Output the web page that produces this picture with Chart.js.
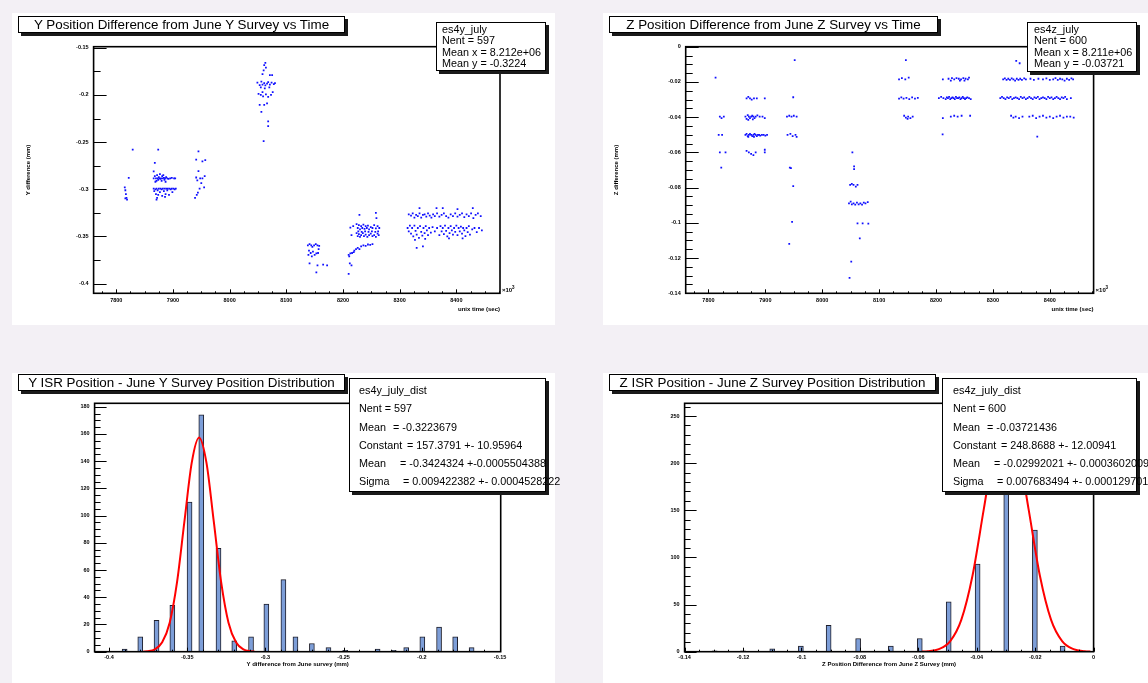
<!DOCTYPE html>
<html><head><meta charset="utf-8">
<script src="https://cdn.jsdelivr.net/npm/chart.js@4.4.1/dist/chart.umd.min.js"></script>
<style>
body{margin:0;width:1148px;height:683px;background:#f3f0f5;position:relative;overflow:hidden;font-family:"Liberation Sans",Arial,sans-serif;color:#000}
.pad{position:absolute;background:#fff}
.pad canvas{position:absolute;left:0;top:0}
.title{position:absolute;box-sizing:border-box;border:1px solid #000;background:#fff;box-shadow:3px 3px 0 #1a1a1a;font-size:13.4px;text-align:center;line-height:15px;white-space:nowrap;overflow:visible}
.stats{position:absolute;box-sizing:border-box;border:1px solid #000;background:#fff;box-shadow:3px 3px 0 #1a1a1a;font-size:10.8px;white-space:nowrap;overflow:visible}
.stats div{white-space:nowrap}
.stats span{display:inline-block}
</style></head>
<body>
<div class="pad" style="left:12px;top:13px;width:543px;height:312px"><canvas id="cTL" width="543" height="312"></canvas></div>
<div class="pad" style="left:603px;top:13px;width:545px;height:312px"><canvas id="cTR" width="545" height="312"></canvas></div>
<div class="pad" style="left:12px;top:373px;width:543px;height:310px"><canvas id="cBL" width="543" height="310"></canvas></div>
<div class="pad" style="left:603px;top:373px;width:545px;height:310px"><canvas id="cBR" width="545" height="310"></canvas></div>

<div class="title" style="left:18px;top:16px;width:327px;height:17px">Y Position Difference from June Y Survey vs Time</div>
<div class="title" style="left:609px;top:16px;width:329px;height:17px">Z Position Difference from June Z Survey vs Time</div>
<div class="title" style="left:18px;top:374px;width:327px;height:17px">Y ISR Position - June Y Survey Position Distribution</div>
<div class="title" style="left:609px;top:374px;width:327px;height:17px">Z ISR Position - June Z Survey Position Distribution</div>

<div class="stats" style="left:436px;top:22px;width:110px;height:49px;padding:1px 0 0 5px;line-height:11.3px">
<div>es4y_july</div><div>Nent = 597</div><div>Mean x = 8.212e+06</div><div>Mean y = -0.3224</div></div>
<div class="stats" style="left:1027px;top:22px;width:110px;height:50px;padding:1px 0 0 6px;line-height:11.3px">
<div>es4z_july</div><div>Nent = 600</div><div>Mean x = 8.211e+06</div><div>Mean y = -0.03721</div></div>
<div class="stats" style="left:349px;top:378px;width:197px;height:114px;padding:2px 0 0 9px;line-height:18.3px">
<div>es4y_july_dist</div><div>Nent = 597</div>
<div><span style="width:34px">Mean</span>= -0.3223679</div>
<div><span style="width:48px">Constant</span>= 157.3791 +- 10.95964</div>
<div><span style="width:41px">Mean</span>= -0.3424324 +-0.0005504388</div>
<div><span style="width:44px">Sigma</span>= 0.009422382 +- 0.0004528222</div></div>
<div class="stats" style="left:942px;top:378px;width:195px;height:114px;padding:2px 0 0 10px;line-height:18.3px">
<div>es4z_july_dist</div><div>Nent = 600</div>
<div><span style="width:34px">Mean</span>= -0.03721436</div>
<div><span style="width:48px">Constant</span>= 248.8688 +- 12.00941</div>
<div><span style="width:41px">Mean</span>= -0.02992021 +- 0.0003602009</div>
<div><span style="width:44px">Sigma</span>= 0.007683494 +- 0.0001297016</div></div>

<script>
// ---------------- data ----------------
const timeTicks = [7800, 7900, 8000, 8100, 8200, 8300, 8400];
const timeTickLabels = ['7800', '7900', '8000', '8100', '8200', '8300', '8400'];
const yDiffTicks = [-0.4, -0.35, -0.3, -0.25, -0.2, -0.15];
const yDiffTickLabels = ['-0.4', '-0.35', '-0.3', '-0.25', '-0.2', '-0.15'];
const zDiffTicks = [-0.14, -0.12, -0.1, -0.08, -0.06, -0.04, -0.02, 0];
const zDiffTickLabels = ['-0.14', '-0.12', '-0.1', '-0.08', '-0.06', '-0.04', '-0.02', '0'];
const yCountTicks = [0, 20, 40, 60, 80, 100, 120, 140, 160, 180];
const yCountTickLabels = ['0', '20', '40', '60', '80', '100', '120', '140', '160', '180'];
const zCountTicks = [0, 50, 100, 150, 200, 250];
const zCountTickLabels = ['0', '50', '100', '150', '200', '250'];

// Y position difference vs time (time in 10^3 s, difference in mm)
const yScatter = [
 [7829,-0.258],[7822,-0.288],[7815,-0.298],[7816,-0.301],[7817,-0.305],[7818,-0.309],[7816,-0.3095],[7819,-0.311],
 [7874,-0.258],[7868,-0.272],[7866,-0.281],[7871,-0.311],
 [7866,-0.2885],[7868,-0.286],[7870,-0.2885],[7871,-0.291],[7872,-0.285],[7873,-0.2885],[7874,-0.290],[7875,-0.287],[7876,-0.2885],[7877,-0.284],[7878,-0.289],[7879,-0.2885],[7880,-0.291],[7881,-0.286],[7882,-0.2885],[7884,-0.288],[7885,-0.290],[7886,-0.2885],[7888,-0.287],[7890,-0.2885],[7892,-0.289],[7895,-0.2885],[7898,-0.288],[7902,-0.2885],[7904,-0.2885],[7869,-0.292],[7883,-0.285],[7887,-0.292],
 [7866,-0.2994],[7867,-0.302],[7869,-0.300],[7870,-0.305],[7871,-0.2994],[7873,-0.301],[7874,-0.306],[7875,-0.2994],[7877,-0.303],[7878,-0.2994],[7880,-0.300],[7881,-0.307],[7882,-0.2994],[7884,-0.302],[7885,-0.2994],[7887,-0.305],[7888,-0.2994],[7890,-0.301],[7891,-0.2994],[7893,-0.306],[7894,-0.2994],[7896,-0.300],[7898,-0.2994],[7899,-0.303],[7901,-0.2994],[7903,-0.300],[7905,-0.2994],[7872,-0.309],[7886,-0.308],
 [7945,-0.2597],[7941,-0.2685],[7952,-0.2703],[7957,-0.269],[7945,-0.2808],[7941,-0.2875],[7948,-0.2885],[7956,-0.286],[7943,-0.2905],[7950,-0.2935],[7947,-0.2994],[7955,-0.298],[7944,-0.3035],[7939,-0.3092],[7942,-0.306],[7952,-0.2885],
 [8063,-0.166],[8061,-0.1685],[8064,-0.171],[8060,-0.174],[8071,-0.179],[8075,-0.179],[8058,-0.178],
 [8049,-0.187],[8053,-0.1895],[8056,-0.186],[8058,-0.189],[8061,-0.1875],[8063,-0.190],[8066,-0.188],[8068,-0.1865],[8071,-0.189],[8074,-0.187],[8078,-0.1885],[8080,-0.1875],[8055,-0.192],[8062,-0.193],[8070,-0.192],
 [8051,-0.199],[8055,-0.200],[8059,-0.2015],[8064,-0.1995],[8068,-0.202],[8073,-0.200],[8058,-0.197],[8076,-0.197],
 [8053,-0.2105],[8061,-0.2105],[8066,-0.209],[8056,-0.218],[8068,-0.228],[8068,-0.233],[8060,-0.249],
 [8138,-0.3595],[8141,-0.358],[8144,-0.3595],[8146,-0.361],[8149,-0.3595],[8152,-0.358],[8155,-0.3595],[8158,-0.360],[8140,-0.365],[8143,-0.3675],[8147,-0.366],[8150,-0.3696],[8153,-0.368],[8139,-0.3696],[8145,-0.371],[8156,-0.3675],[8157,-0.3635],
 [8141,-0.3785],[8155,-0.3805],[8165,-0.3799],[8172,-0.3805],[8153,-0.388],
 [8229,-0.327],[8258,-0.325],[8259,-0.3305],
 [8213,-0.3405],[8218,-0.339],[8224,-0.337],[8226,-0.341],[8228,-0.338],[8230,-0.3425],[8232,-0.339],[8234,-0.341],[8236,-0.3375],[8238,-0.342],[8240,-0.339],[8242,-0.341],[8244,-0.3385],[8246,-0.3425],[8249,-0.340],[8252,-0.341],[8255,-0.338],[8258,-0.3415],[8261,-0.339],[8264,-0.341],
 [8215,-0.3485],[8224,-0.3465],[8226,-0.3495],[8228,-0.3475],[8230,-0.3505],[8232,-0.3485],[8235,-0.3465],[8237,-0.3495],[8240,-0.348],[8243,-0.3505],[8246,-0.3485],[8249,-0.347],[8252,-0.3495],[8255,-0.3485],[8258,-0.3505],[8261,-0.347],[8263,-0.3485],
 [8227,-0.3445],[8233,-0.345],[8239,-0.3445],[8245,-0.345],[8251,-0.3445],[8257,-0.345],[8262,-0.3445],
 [8210,-0.3696],[8213,-0.368],[8216,-0.3675],[8220,-0.365],[8223,-0.3635],[8226,-0.362],[8229,-0.3635],[8232,-0.3605],[8236,-0.3595],[8240,-0.360],[8244,-0.3585],[8248,-0.359],[8252,-0.358],[8211,-0.371],[8219,-0.3665],
 [8212,-0.3785],[8215,-0.3805],[8210,-0.3895],
 [8335,-0.3199],[8365,-0.3199],[8376,-0.3199],[8429,-0.3199],[8402,-0.321],
 [8316,-0.3265],[8320,-0.328],[8323,-0.3255],[8326,-0.330],[8329,-0.327],[8332,-0.3285],[8335,-0.3255],[8338,-0.330],[8341,-0.327],[8344,-0.3265],[8347,-0.329],[8350,-0.3255],[8353,-0.328],[8356,-0.330],[8359,-0.3265],[8362,-0.3285],[8366,-0.3255],[8370,-0.329],[8374,-0.327],[8378,-0.3255],[8382,-0.3285],[8386,-0.330],[8390,-0.3265],[8394,-0.3285],[8398,-0.3255],[8402,-0.329],[8406,-0.327],[8410,-0.3255],[8414,-0.3295],[8418,-0.3265],[8422,-0.3285],[8426,-0.3255],[8430,-0.3305],[8434,-0.327],[8438,-0.3255],[8443,-0.3285],
 [8314,-0.341],[8316,-0.3445],[8318,-0.3385],[8320,-0.347],[8322,-0.341],[8324,-0.350],[8326,-0.3385],[8328,-0.344],[8330,-0.348],[8332,-0.341],[8334,-0.3515],[8336,-0.339],[8338,-0.345],[8340,-0.349],[8342,-0.341],[8344,-0.3465],[8346,-0.339],[8348,-0.3435],[8350,-0.3485],[8352,-0.341],[8355,-0.346],[8358,-0.340],[8362,-0.3445],[8366,-0.341],[8370,-0.3485],[8372,-0.339],[8374,-0.3445],[8376,-0.341],[8378,-0.3475],[8380,-0.3385],[8382,-0.344],[8384,-0.350],[8386,-0.341],[8388,-0.3465],[8390,-0.339],[8392,-0.3435],[8394,-0.348],[8396,-0.341],[8398,-0.345],[8400,-0.3385],[8402,-0.3485],[8404,-0.341],[8406,-0.3445],[8408,-0.3395],[8410,-0.347],[8412,-0.341],[8414,-0.3435],[8416,-0.3495],[8418,-0.341],[8420,-0.3455],[8422,-0.339],[8424,-0.348],[8428,-0.3425],[8432,-0.341],[8436,-0.3455],[8440,-0.341],[8445,-0.3435],[8327,-0.3535],[8345,-0.3525],[8387,-0.352],[8411,-0.352],
 [8330,-0.362],[8341,-0.3605]
];

// Z position difference vs time
const zScatter = [
 [7812.5,-0.0176],[7820,-0.0397],[7823,-0.0405],[7827,-0.0397],[7818,-0.0501],[7824,-0.0501],[7820,-0.06],[7830,-0.06],[7822.5,-0.0687],
 [7867,-0.0293],[7870,-0.0285],[7873,-0.0293],[7876,-0.030],[7880,-0.0293],[7885,-0.0293],[7899,-0.0293],
 [7865,-0.0397],[7867,-0.041],[7869,-0.0388],[7871,-0.0397],[7873,-0.0405],[7875,-0.0397],[7877,-0.0392],[7879,-0.0397],[7881,-0.0405],[7883,-0.0397],[7886,-0.039],[7890,-0.0397],[7895,-0.0397],[7899,-0.0405],[7870,-0.0415],[7878,-0.0412],
 [7865,-0.0501],[7867,-0.0495],[7869,-0.0508],[7871,-0.0501],[7873,-0.0495],[7875,-0.0501],[7877,-0.0508],[7879,-0.0501],[7881,-0.0495],[7883,-0.0501],[7885,-0.0508],[7887,-0.0501],[7889,-0.0501],[7891,-0.0505],[7894,-0.0501],[7897,-0.0501],[7900,-0.0505],[7903,-0.0501],[7870,-0.0512],[7880,-0.0512],
 [7867,-0.0592],[7871,-0.06],[7875,-0.0608],[7879,-0.0615],[7883,-0.06],[7899,-0.06],[7899,-0.0585],
 [7951.6,-0.0076],[7949,-0.0287],[7938,-0.0397],[7942,-0.0392],[7946,-0.0397],[7950,-0.0392],[7955,-0.0397],[7939,-0.0501],[7944,-0.0495],[7948,-0.0508],[7953,-0.0501],[7955,-0.0512],[7943,-0.0687],[7945,-0.069],[7949,-0.0791],[7947,-0.0994],[7942,-0.112],
 [8053,-0.06],[8056,-0.068],[8056,-0.0695],[8049,-0.0785],[8052,-0.0779],[8055,-0.0785],[8059,-0.0795],[8062,-0.0785],
 [8047,-0.0889],[8050,-0.088],[8052,-0.0895],[8055,-0.0889],[8058,-0.0897],[8061,-0.0885],[8064,-0.0895],[8067,-0.0889],[8070,-0.0897],[8073,-0.0885],[8076,-0.0889],[8080,-0.0882],
 [8062,-0.1003],[8071,-0.1003],[8081,-0.1005],[8066,-0.1088],[8051,-0.122],[8048,-0.1312],
 [8147,-0.0076],
 [8135,-0.0185],[8140,-0.0178],[8146,-0.0185],[8152,-0.0175],
 [8135,-0.0295],[8139,-0.0288],[8143,-0.0295],[8148,-0.029],[8153,-0.0297],[8158,-0.0288],[8163,-0.0295],[8168,-0.029],
 [8144,-0.0392],[8147,-0.0402],[8151,-0.0397],[8155,-0.0405],[8159,-0.0397],[8150,-0.041],
 [8212,-0.0185],[8222,-0.0182],[8228,-0.0178],[8232,-0.0185],[8236,-0.0178],[8240,-0.0182],[8244,-0.0185],[8248,-0.0178],[8252,-0.0182],[8256,-0.0185],[8258,-0.0175],[8226,-0.0192],[8242,-0.0192],[8250,-0.0192],
 [8205,-0.0292],[8209,-0.0285],[8213,-0.0292],[8217,-0.0297],[8219,-0.0288],[8221,-0.0292],[8223,-0.0285],[8225,-0.0297],[8227,-0.0292],[8229,-0.0288],[8231,-0.0292],[8233,-0.0297],[8235,-0.0285],[8237,-0.0292],[8239,-0.0292],[8241,-0.0288],[8243,-0.0297],[8245,-0.0292],[8247,-0.0285],[8249,-0.0292],[8251,-0.0297],[8253,-0.0292],[8255,-0.0288],[8258,-0.0292],[8261,-0.0297],
 [8212,-0.0405],[8226,-0.0397],[8232,-0.0392],[8238,-0.0397],[8245,-0.0392],[8260,-0.0392],
 [8211.6,-0.0498],
 [8341,-0.008],[8347,-0.0094],
 [8318,-0.0185],[8321,-0.018],[8324,-0.0188],[8327,-0.0182],[8330,-0.0188],[8333,-0.018],[8336,-0.0185],[8339,-0.0192],[8342,-0.0182],[8345,-0.0188],[8348,-0.0182],[8351,-0.0188],[8355,-0.018],[8358,-0.0185],[8366,-0.0182],[8372,-0.0188],[8380,-0.0182],[8388,-0.0185],[8394,-0.018],[8400,-0.0188],[8406,-0.0185],[8410,-0.0178],[8414,-0.0188],[8418,-0.0182],[8422,-0.0185],[8426,-0.0192],[8430,-0.0182],[8434,-0.0188],[8438,-0.018],[8441,-0.0185],
 [8313,-0.0292],[8316,-0.0285],[8319,-0.0292],[8322,-0.0297],[8325,-0.0288],[8328,-0.0292],[8331,-0.0285],[8334,-0.0297],[8337,-0.0292],[8340,-0.0288],[8343,-0.0292],[8346,-0.0297],[8349,-0.0285],[8352,-0.0292],[8355,-0.0288],[8358,-0.0297],[8361,-0.0292],[8364,-0.0285],[8367,-0.0292],[8370,-0.0297],[8373,-0.0288],[8376,-0.0292],[8379,-0.0285],[8382,-0.0297],[8385,-0.0292],[8388,-0.0288],[8391,-0.0292],[8394,-0.0297],[8397,-0.0285],[8400,-0.0292],[8403,-0.0288],[8406,-0.0297],[8409,-0.0292],[8412,-0.0285],[8415,-0.0292],[8418,-0.0297],[8421,-0.0288],[8424,-0.0292],[8427,-0.0285],[8430,-0.0297],[8437,-0.0292],
 [8332,-0.0392],[8336,-0.0402],[8340,-0.0397],[8346,-0.0405],[8352,-0.0397],[8364,-0.0397],[8370,-0.0392],[8376,-0.0405],[8382,-0.0397],[8388,-0.0392],[8394,-0.0402],[8400,-0.0397],[8406,-0.0405],[8412,-0.0397],[8418,-0.0392],[8424,-0.0402],[8430,-0.0397],[8436,-0.0397],[8442,-0.0402],
 [8378,-0.051]
];

// Y distribution histogram
const yHistCenters = [-0.390,-0.380,-0.3696,-0.3595,-0.3485,-0.341,-0.330,-0.3199,-0.3092,-0.2994,-0.2885,-0.2808,-0.2703,-0.2597,-0.249,-0.2283,-0.218,-0.210,-0.1997,-0.189,-0.1787,-0.1682];
const yHistCounts  = [2,11,23,34,110,174,76,8,11,35,53,11,6,3,1,2,1,3,11,18,11,3];
// Y gaussian fit curve
const yFitX = [-0.378,-0.3754,-0.3707,-0.3660,-0.3612,-0.3565,-0.3518,-0.3471,-0.3424,-0.3377,-0.3330,-0.3283,-0.3236,-0.3188,-0.3141,-0.3094,-0.307];
const yFitY = [0.13,0.34,1.75,6.9,21.3,51.1,95.5,138.9,157.4,138.9,95.5,51.1,21.3,6.9,1.75,0.34,0.13];

// Z distribution histogram
const zHistCenters = [-0.1297,-0.12,-0.110,-0.1002,-0.0907,-0.0806,-0.0694,-0.0595,-0.0496,-0.0397,-0.0299,-0.0201,-0.0106];
const zHistCounts  = [1,1,3,6,28,14,6,14,53,93,246,129,6];
const zFitX = [-0.0587,-0.05681,-0.05297,-0.04913,-0.04529,-0.04144,-0.0376,-0.03376,-0.02992,-0.02608,-0.02224,-0.0184,-0.01455,-0.01071,-0.00687,-0.00303,-0.00111];
const zFitY = [0.22,0.54,2.76,10.9,33.7,80.8,150.9,219.6,248.9,219.6,150.9,80.8,33.7,10.9,2.76,0.54,0.22];

// ---------------- drawing ----------------
const FAMILY = '"Liberation Sans", Arial, sans-serif';
const tickFont = {family: FAMILY, size: 5.5, weight: 'bold'};
const titleFont = {family: FAMILY, size: 6, weight: 'bold'};

const rootFrame = {
  id: 'rootFrame',
  afterDatasetsDraw(chart, args, o) {
    const {ctx, chartArea: a} = chart;
    const sx = chart.scales.x, sy = chart.scales.y;
    ctx.save();
    ctx.strokeStyle = '#000';
    ctx.lineWidth = 1;
    const isMajor = (v, majors) => majors.some(m => Math.abs(m - v) < o.eps);
    for (let k = Math.ceil(sx.min / o.xStep - 1e-6); k * o.xStep <= sx.max + 1e-9; k++) {
      const v = k * o.xStep, px = Math.round(sx.getPixelForValue(v)) + 0.5;
      const len = isMajor(v, o.xMajors) ? o.xMajLen : o.xMinLen;
      ctx.beginPath(); ctx.moveTo(px, a.bottom); ctx.lineTo(px, a.bottom - len); ctx.stroke();
    }
    for (let k = Math.ceil(sy.min / o.yStep - 1e-6); k * o.yStep <= sy.max + 1e-9; k++) {
      const v = k * o.yStep, py = Math.round(sy.getPixelForValue(v)) + 0.5;
      const len = isMajor(v, o.yMajors) ? o.yMajLen : o.yMinLen;
      ctx.beginPath(); ctx.moveTo(a.left, py); ctx.lineTo(a.left + len, py); ctx.stroke();
    }
    ctx.lineWidth = 1.6;
    ctx.strokeRect(a.left, a.top, a.right - a.left, a.bottom - a.top);
    if (o.exp) {
      ctx.fillStyle = '#000';
      ctx.font = 'bold 6px ' + FAMILY;
      ctx.textBaseline = 'alphabetic';
      ctx.fillText('×10', a.right + 2, a.bottom - 1);
      ctx.font = 'bold 4.5px ' + FAMILY;
      ctx.fillText('3', a.right + 12, a.bottom - 4);
    }
    ctx.restore();
  }
};

function axisX(min, max, vals, labels, title, titleAlign, titlePad, height, labelPad) {
  return {
    type: 'linear', min, max, offset: false,
    grid: {display: false, drawTicks: false}, border: {display: false},
    afterFit: s => { s.height = height; },
    afterBuildTicks: s => { s.ticks = vals.map(v => ({value: v})); },
    ticks: {callback: (v, i) => labels[i], font: tickFont, color: '#000', padding: labelPad, maxRotation: 0, autoSkip: false},
    title: {display: true, text: title, align: titleAlign, font: titleFont, color: '#000', padding: {top: 0, bottom: titlePad}}
  };
}
function axisY(min, max, vals, labels, title, titlePad, width) {
  return {
    type: 'linear', min, max,
    grid: {display: false, drawTicks: false}, border: {display: false},
    afterFit: s => { s.width = width; },
    afterBuildTicks: s => { s.ticks = vals.map(v => ({value: v})); },
    ticks: {callback: (v, i) => labels[i], font: tickFont, color: '#000', padding: 5, autoSkip: false},
    title: {display: !!title, text: title || '', font: titleFont, color: '#000', padding: {top: titlePad, bottom: 0}}
  };
}
function baseOpts(pad, frame, scales) {
  return {
    responsive: false, animation: false, events: [],
    layout: {padding: {top: pad.t, right: pad.r, left: 0, bottom: 0}},
    plugins: {legend: {display: false}, tooltip: {enabled: false}, title: {display: false}, rootFrame: frame},
    scales
  };
}

function scatterChart(id, pts, pad, frame, xs, ys) {
  new Chart(document.getElementById(id), {
    type: 'scatter',
    data: {datasets: [{
      data: pts.map(p => ({x: p[0], y: p[1]})),
      pointStyle: 'rect', pointRadius: 1.25, pointBorderWidth: 0, borderWidth: 0,
      backgroundColor: '#1010ff', pointBackgroundColor: '#1010ff'
    }]},
    options: baseOpts(pad, frame, {x: xs, y: ys}),
    plugins: [rootFrame]
  });
}
function histChart(id, centers, counts, fx, fy, pad, frame, xs, ys) {
  new Chart(document.getElementById(id), {
    type: 'bar',
    data: {datasets: [
      {type: 'line', data: fx.map((v, i) => ({x: v, y: fy[i]})), borderColor: '#ff0000', borderWidth: 2,
       pointRadius: 0, fill: false, cubicInterpolationMode: 'monotone'},
      {type: 'bar', data: centers.map((v, i) => ({x: v, y: counts[i]})), backgroundColor: '#7d9ed8',
       borderColor: '#1e1e2a', borderWidth: 1, barThickness: 5, borderSkipped: false}
    ]},
    options: baseOpts(pad, frame, {x: xs, y: ys}),
    plugins: [rootFrame]
  });
}

scatterChart('cTL', yScatter, {t: 33.7, r: 55},
  {xStep: 25, xMajors: timeTicks, xMajLen: 4, xMinLen: 2, yStep: 0.025, yMajors: yDiffTicks, yMajLen: 13, yMinLen: 7, eps: 1e-6, exp: true},
  axisX(7760, 8477, timeTicks, timeTickLabels, 'unix time (sec)', 'end', 12.4, 31.7, 3.5),
  axisY(-0.4102, -0.1489, yDiffTicks, yDiffTickLabels, 'Y difference (mm)', 12.3, 81.6));

scatterChart('cTR', zScatter, {t: 33.7, r: 54.4},
  {xStep: 25, xMajors: timeTicks, xMajLen: 4, xMinLen: 2, yStep: 0.005, yMajors: zDiffTicks, yMajLen: 13, yMinLen: 7, eps: 1e-6, exp: true},
  axisX(7760, 8477, timeTicks, timeTickLabels, 'unix time (sec)', 'end', 12.4, 31.7, 3.5),
  axisY(-0.14, 0, zDiffTicks, zDiffTickLabels, 'Z difference (mm)', 10.2, 82.7));

histChart('cBL', yHistCenters, yHistCounts, yFitX, yFitY, {t: 30.3, r: 54.3},
  {xStep: 0.01, xMajors: yDiffTicks, xMajLen: 4, xMinLen: 2, yStep: 5, yMajors: yCountTicks, yMajLen: 12, yMinLen: 6, eps: 1e-6},
  axisX(-0.4092, -0.1496, yDiffTicks, yDiffTickLabels, 'Y difference from June survey (mm)', 'center', 15.4, 31.3, 2.5),
  axisY(0, 182.5, yCountTicks, yCountTickLabels, '', 0, 82.6));

histChart('cBR', zHistCenters, zHistCounts, zFitX, zFitY, {t: 30.3, r: 54.4},
  {xStep: 0.005, xMajors: zDiffTicks, xMajLen: 4, xMinLen: 2, yStep: 10, yMajors: zCountTicks, yMajLen: 12, yMinLen: 6, eps: 1e-6},
  axisX(-0.14, 0, zDiffTicks, zDiffTickLabels, 'Z Position Difference from June Z Survey (mm)', 'center', 15.4, 31.3, 2.5),
  axisY(0, 263.5, zCountTicks, zCountTickLabels, '', 0, 81.6));
</script>
</body></html>
